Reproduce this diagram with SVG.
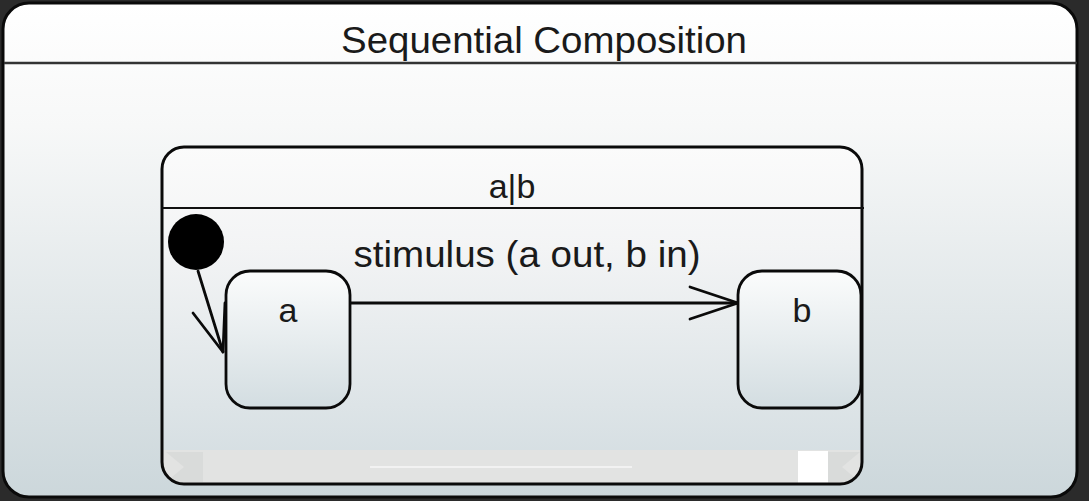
<svg xmlns="http://www.w3.org/2000/svg" width="1089" height="501" viewBox="0 0 1089 501">
  <defs>
    <linearGradient id="gOuter" x1="0" y1="0" x2="0" y2="1">
      <stop offset="0" stop-color="#ffffff"/>
      <stop offset="0.25" stop-color="#f7f8f8"/>
      <stop offset="1" stop-color="#ccd7db"/>
    </linearGradient>
    <linearGradient id="gInner" x1="0" y1="0" x2="0" y2="1">
      <stop offset="0" stop-color="#fbfbfb"/>
      <stop offset="0.3" stop-color="#f3f4f5"/>
      <stop offset="1" stop-color="#d2dce0"/>
    </linearGradient>
    <linearGradient id="gState" x1="0" y1="0" x2="0" y2="1">
      <stop offset="0" stop-color="#fbfcfc"/>
      <stop offset="1" stop-color="#d3dde1"/>
    </linearGradient>
    <clipPath id="innerClip">
      <rect x="162" y="147" width="700" height="337" rx="22" ry="22"/>
    </clipPath>
    <style>
      .frame { stroke: #0a0a0a; stroke-width: 3; }
      .state { fill: url(#gState); stroke: #0a0a0a; stroke-width: 2.8; }
      .lbl { font-family: "Liberation Sans", Arial, sans-serif; fill: #1a1a1a; text-anchor: middle; }
      .edge { fill: none; stroke: #0a0a0a; stroke-width: 2.8; stroke-linecap: round; stroke-linejoin: round; }
    </style>
  </defs>

  <rect x="0" y="0" width="1089" height="501" fill="#2b2b2b"/>

  <g id="outer">
    <rect x="3" y="3" width="1074" height="494" rx="26" ry="26" fill="url(#gOuter)" class="frame"/>
    <line x1="4" y1="63" x2="1077" y2="63" stroke="#333" stroke-width="2.5"/>
    <text class="lbl" x="544" y="53" font-size="37" textLength="406" lengthAdjust="spacingAndGlyphs">Sequential Composition</text>
  </g>

  <g id="container-ab">
    <rect x="162" y="147" width="700" height="337" rx="22" ry="22" fill="url(#gInner)"/>
    <g clip-path="url(#innerClip)">
      <rect x="162" y="450" width="700" height="34" fill="#e2e3e2"/>
      <line x1="370" y1="467" x2="632" y2="467" stroke="#f2f2f2" stroke-width="2"/>
      <polygon points="166,452 203,452 203,482 166,482 184,467" fill="#d6d7d7" opacity="0.7"/>
      <polygon points="828,452 860,452 842,467 860,482 828,482" fill="#d6d7d7" opacity="0.7"/>
      <rect x="798" y="451" width="30" height="32" fill="#ffffff"/>
    </g>
    <rect x="162" y="147" width="700" height="337" rx="22" ry="22" fill="none" class="frame"/>
    <line x1="163" y1="208" x2="864" y2="208" stroke="#111" stroke-width="2"/>
    <text class="lbl" x="512" y="198" font-size="34">a|b</text>
  </g>

  <g id="initial">
    <circle cx="196" cy="242" r="28" fill="#000"/>
  </g>

  <g id="connectors">
    <polyline class="edge" points="198,271 223,352"/>
    <polyline class="edge" points="193,313 223,352 225,303"/>
    <line class="edge" x1="350" y1="303" x2="738" y2="303"/>
    <polyline class="edge" points="690,287 738,303 690,319"/>
    <text class="lbl" x="527" y="267" font-size="37" textLength="347" lengthAdjust="spacingAndGlyphs">stimulus (a out, b in)</text>
  </g>

  <g id="state-a">
    <rect class="state" x="226" y="271" width="124" height="137" rx="24" ry="24"/>
    <text class="lbl" x="288" y="322" font-size="34">a</text>
  </g>

  <g id="state-b">
    <rect class="state" x="738" y="271" width="123" height="137" rx="24" ry="24"/>
    <text class="lbl" x="802" y="322" font-size="34">b</text>
  </g>
</svg>
